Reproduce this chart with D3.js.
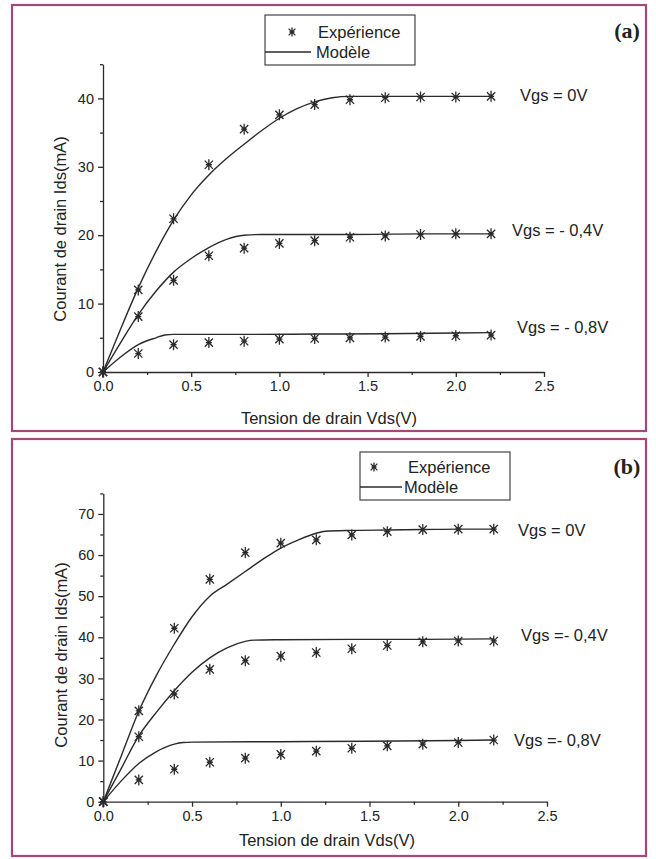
<!DOCTYPE html>
<html><head><meta charset="utf-8">
<script src="https://cdn.jsdelivr.net/npm/d3@7"></script>
<style>
html,body{margin:0;padding:0;background:#fff;}
svg{display:block;}
text{font-family:"Liberation Sans",Arial,sans-serif;fill:#222;}
</style></head>
<body>
<svg id="chart" width="656" height="859"></svg>
<script>
// ---------- DATA ----------
const vdsPoints = [0, 0.2, 0.4, 0.6, 0.8, 1.0, 1.2, 1.4, 1.6, 1.8, 2.0, 2.2];

// Panel (a) measured points (mA)
const expA_0  = [0, 12.0, 22.4, 30.3, 35.5, 37.6, 39.1, 39.8, 40.1, 40.2, 40.2, 40.3];
const expA_04 = [0, 8.1, 13.4, 17.0, 18.1, 18.8, 19.2, 19.7, 19.9, 20.1, 20.2, 20.2];
const expA_08 = [0, 2.7, 4.0, 4.3, 4.5, 4.8, 4.9, 5.0, 5.1, 5.2, 5.3, 5.4];

// Panel (a) model curves
const modA_0_x  = [0, 0.1, 0.2, 0.3, 0.4, 0.5, 0.6, 0.7, 0.8, 0.9, 1.0, 1.1, 1.2, 1.3, 1.4, 1.6, 1.8, 2.0, 2.2];
const modA_0_y  = [0, 6.3, 12.3, 17.6, 22.2, 25.9, 28.8, 31.2, 33.3, 35.3, 37.1, 38.5, 39.5, 40.1, 40.3, 40.3, 40.3, 40.3, 40.3];
const modA_04_x = [0, 0.1, 0.2, 0.3, 0.4, 0.5, 0.6, 0.7, 0.8, 0.9, 1.0, 1.4, 1.8, 2.2];
const modA_04_y = [0, 4.3, 8.4, 11.8, 14.6, 16.6, 18.2, 19.4, 20.0, 20.1, 20.1, 20.1, 20.2, 20.2];
const modA_08_x = [0, 0.1, 0.2, 0.3, 0.35, 0.4, 0.8, 1.2, 1.6, 2.0, 2.2];
const modA_08_y = [0, 2.2, 4.0, 5.0, 5.4, 5.5, 5.5, 5.55, 5.6, 5.7, 5.75];

// Panel (b) measured points (mA)
const expB_0  = [0, 22.1, 42.2, 54.1, 60.6, 62.9, 63.7, 64.9, 65.7, 66.2, 66.3, 66.3];
const expB_04 = [0, 15.8, 26.2, 32.2, 34.3, 35.4, 36.3, 37.2, 38.0, 38.9, 39.1, 39.1];
const expB_08 = [0, 5.3, 7.9, 9.6, 10.6, 11.5, 12.3, 13.0, 13.6, 14.0, 14.4, 15.0];

// Panel (b) model curves
const modB_0_x  = [0, 0.1, 0.2, 0.3, 0.4, 0.5, 0.6, 0.7, 0.8, 0.9, 1.0, 1.1, 1.2, 1.25, 1.4, 1.6, 1.8, 2.0, 2.2];
const modB_0_y  = [0, 11, 22, 30.8, 38.3, 45, 50, 53, 56, 59, 61.7, 63.7, 65.3, 65.8, 66.0, 66.1, 66.2, 66.3, 66.3];
const modB_04_x = [0, 0.1, 0.2, 0.3, 0.4, 0.5, 0.6, 0.7, 0.8, 0.85, 1.0, 1.4, 1.8, 2.2];
const modB_04_y = [0, 8, 16, 21.8, 27, 31.5, 35, 37.5, 39, 39.3, 39.4, 39.5, 39.5, 39.6];
const modB_08_x = [0, 0.1, 0.2, 0.3, 0.4, 0.45, 0.5, 1.0, 1.5, 2.0, 2.2];
const modB_08_y = [0, 5, 9.3, 12.2, 14, 14.4, 14.5, 14.6, 14.7, 14.9, 15.0];

const xTicks = [0, 0.5, 1.0, 1.5, 2.0, 2.5];
const xMinor = [0.25, 0.75, 1.25, 1.75, 2.25];
const yTicksA = [0, 10, 20, 30, 40];
const yMinorA = [5, 15, 25, 35, 45];
const yTicksB = [0, 10, 20, 30, 40, 50, 60, 70];
const yMinorB = [5, 15, 25, 35, 45, 55, 65, 75];

const legendLabels = ["Expérience", "Modèle"];
const xTitle = "Tension de drain Vds(V)";
const yTitle = "Courant de drain Ids(mA)";
const vgsLabelsA = ["Vgs = 0V", "Vgs = - 0,4V", "Vgs = - 0,8V"];
const vgsLabelsB = ["Vgs = 0V", "Vgs =- 0,4V", "Vgs =- 0,8V"];

// ---------- DRAW ----------
const svg = d3.select("#chart");
const ink = "#2a2a2a";
const border = "#a3487a";

function star(g, x, y, r) {
  const d = r * 0.75;
  g.append("path")
    .attr("d", `M${x},${y - r}V${y + r}M${x - d},${y - d}L${x + d},${y + d}M${x - d},${y + d}L${x + d},${y - d}M${x - r * 0.55},${y}H${x + r * 0.55}`)
    .attr("stroke", ink).attr("stroke-width", 1.3).attr("fill", "none");
}

function panel(cfg) {
  const g = svg.append("g");
  g.append("rect").attr("x", cfg.box[0]).attr("y", cfg.box[1])
    .attr("width", cfg.box[2] - cfg.box[0]).attr("height", cfg.box[3] - cfg.box[1])
    .attr("fill", "#fff").attr("stroke", border).attr("stroke-width", 2.2);

  const x = d3.scaleLinear().domain([0, 2.5]).range(cfg.xr);
  const y = d3.scaleLinear().domain([0, cfg.yMax]).range(cfg.yr);

  // axes
  g.append("g").attr("transform", `translate(0,${cfg.yr[0]})`)
    .call(d3.axisBottom(x).tickValues(xTicks).tickFormat(d3.format(".1f")).tickSize(5).tickSizeOuter(0).tickPadding(4));
  g.append("g").attr("transform", `translate(0,${cfg.yr[0]})`)
    .call(d3.axisBottom(x).tickValues(xMinor).tickFormat("").tickSize(3).tickSizeOuter(0))
    .select(".domain").remove();
  g.append("g").attr("transform", `translate(${cfg.xr[0]},0)`)
    .call(d3.axisLeft(y).tickValues(cfg.yTicks).tickFormat(d3.format("d")).tickSize(5).tickSizeOuter(0).tickPadding(4));
  g.append("g").attr("transform", `translate(${cfg.xr[0]},0)`)
    .call(d3.axisLeft(y).tickValues(cfg.yMinor).tickFormat("").tickSize(3).tickSizeOuter(0))
    .select(".domain").remove();
  g.selectAll(".domain, .tick line").attr("stroke", ink).attr("stroke-width", 1.3);
  g.selectAll(".tick text").attr("font-size", 14.5).attr("fill", "#222")
    .attr("font-family", '"Liberation Sans",Arial,sans-serif');

  // titles
  g.append("text").attr("x", cfg.xTitle[0]).attr("y", cfg.xTitle[1]).attr("text-anchor", "middle")
    .attr("dominant-baseline", "central").attr("font-size", 16.5).text(xTitle);
  g.append("text").attr("transform", `translate(${cfg.yTitle[0]},${cfg.yTitle[1]}) rotate(-90)`)
    .attr("text-anchor", "middle").attr("dominant-baseline", "central").attr("font-size", 16.5).text(yTitle);

  // model curves
  const line = d3.line().x(d => x(d[0])).y(d => y(d[1])).curve(d3.curveMonotoneX);
  cfg.models.forEach(m => {
    g.append("path").datum(d3.zip(m[0], m[1])).attr("d", line)
      .attr("fill", "none").attr("stroke", ink).attr("stroke-width", 1.4);
  });
  // experimental points
  cfg.exps.forEach(e => {
    e.forEach((v, i) => star(g, x(vdsPoints[i]), y(v), 5.5));
  });

  // Vgs labels
  cfg.vgs.forEach((t, i) => {
    g.append("text").attr("x", cfg.vgsPos[i][0]).attr("y", cfg.vgsPos[i][1])
      .attr("dominant-baseline", "central").attr("font-size", 16.5).text(t);
  });

  // legend
  const L = cfg.legend;
  g.append("rect").attr("x", L.x0).attr("y", L.y0).attr("width", L.x1 - L.x0).attr("height", L.y1 - L.y0)
    .attr("fill", "#fff").attr("stroke", "#444").attr("stroke-width", 1.2);
  star(g, L.starX, L.row1, 4.5);
  g.append("text").attr("x", L.textX).attr("y", L.row1).attr("dominant-baseline", "central")
    .attr("font-size", 16.5).text(legendLabels[0]);
  g.append("line").attr("x1", L.x0).attr("x2", L.lineX2).attr("y1", L.row2).attr("y2", L.row2)
    .attr("stroke", ink).attr("stroke-width", 1.4);
  g.append("text").attr("x", L.textX2).attr("y", L.row2).attr("dominant-baseline", "central")
    .attr("font-size", 16.5).text(legendLabels[1]);

  // panel tag
  g.append("text").attr("x", cfg.tag[0]).attr("y", cfg.tag[1]).attr("text-anchor", "middle")
    .attr("dominant-baseline", "central")
    .attr("font-weight", "bold").attr("font-size", 22).style("font-family", '"Liberation Serif",serif').text(cfg.tagText);
}

panel({
  box: [12, 5, 646, 431],
  xr: [103, 544], yr: [372, 64.2], yMax: 45,
  yTicks: yTicksA, yMinor: yMinorA,
  xTitle: [329, 418], yTitle: [60, 229],
  models: [[modA_0_x, modA_0_y], [modA_04_x, modA_04_y], [modA_08_x, modA_08_y]],
  exps: [expA_0, expA_04, expA_08],
  vgs: vgsLabelsA, vgsPos: [[520, 95], [512, 230], [517, 327]],
  legend: {x0: 265, x1: 415, y0: 15, y1: 65, starX: 292, textX: 318, row1: 32, row2: 52, lineX2: 311, textX2: 316},
  tag: [627, 30], tagText: "(a)"
});

panel({
  box: [12, 439, 646, 856],
  xr: [103.3, 547], yr: [801.7, 493.4], yMax: 75,
  yTicks: yTicksB, yMinor: yMinorB,
  xTitle: [327, 840], yTitle: [61, 655],
  models: [[modB_0_x, modB_0_y], [modB_04_x, modB_04_y], [modB_08_x, modB_08_y]],
  exps: [expB_0, expB_04, expB_08],
  vgs: vgsLabelsB, vgsPos: [[518, 530], [521, 635], [514, 740]],
  legend: {x0: 360, x1: 510, y0: 452, y1: 500, starX: 374, textX: 408, row1: 467, row2: 487, lineX2: 402, textX2: 404},
  tag: [627, 466], tagText: "(b)"
});
</script>
</body></html>
